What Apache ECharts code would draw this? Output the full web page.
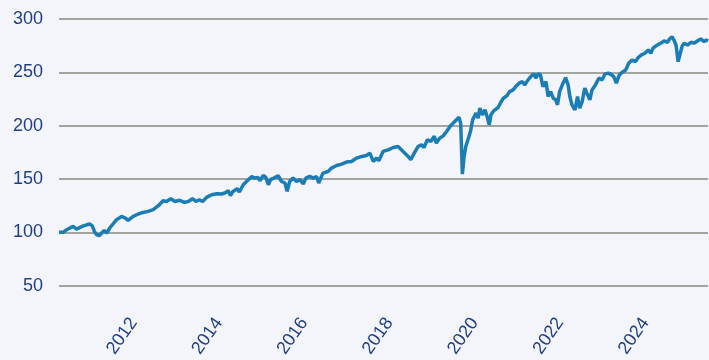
<!DOCTYPE html>
<html>
<head>
<meta charset="utf-8">
<script src="https://cdn.jsdelivr.net/npm/echarts@6/dist/echarts.min.js"></script>
<style>
  html, body { margin: 0; padding: 0; background: #f4f5fb; }
  #chart { width: 709px; height: 360px; }
</style>
</head>
<body>
<div id="chart"></div>
<script>
// Index level (start = 100), sampled by fractional year
const years = [
  2010.75, 2010.85, 2010.93, 2011.08, 2011.16, 2011.32, 2011.40, 2011.47, 2011.53, 2011.58,
  2011.63, 2011.69, 2011.75, 2011.81, 2011.87, 2011.94, 2012.10, 2012.22, 2012.30, 2012.37,
  2012.49, 2012.61, 2012.72, 2012.84, 2012.96, 2013.08, 2013.19, 2013.27, 2013.37, 2013.47,
  2013.58, 2013.69, 2013.78, 2013.88, 2013.96, 2014.04, 2014.12, 2014.21, 2014.33, 2014.45,
  2014.56, 2014.64, 2014.72, 2014.77, 2014.83, 2014.93, 2014.98, 2015.07, 2015.19, 2015.27,
  2015.34, 2015.42, 2015.46, 2015.54, 2015.60, 2015.66, 2015.71, 2015.79, 2015.89, 2015.97,
  2016.05, 2016.10, 2016.16, 2016.24, 2016.32, 2016.40, 2016.48, 2016.54, 2016.63, 2016.71,
  2016.79, 2016.84, 2016.94, 2017.06, 2017.14, 2017.26, 2017.38, 2017.49, 2017.61, 2017.73,
  2017.85, 2017.96, 2018.04, 2018.12, 2018.20, 2018.25, 2018.35, 2018.47, 2018.59, 2018.70,
  2018.78, 2018.86, 2018.94, 2019.00, 2019.08, 2019.17, 2019.25, 2019.31, 2019.39, 2019.47,
  2019.55, 2019.60, 2019.68, 2019.76, 2019.84, 2019.92, 2019.99, 2020.07, 2020.13, 2020.17,
  2020.21, 2020.25, 2020.29, 2020.34, 2020.40, 2020.45, 2020.49, 2020.53, 2020.58, 2020.62,
  2020.68, 2020.74, 2020.79, 2020.84, 2020.88, 2020.95, 2021.05, 2021.10, 2021.17, 2021.25,
  2021.32, 2021.40, 2021.46, 2021.54, 2021.62, 2021.67, 2021.75, 2021.83, 2021.89, 2021.93,
  2021.99, 2022.04, 2022.10, 2022.17, 2022.22, 2022.28, 2022.34, 2022.40, 2022.44, 2022.49,
  2022.57, 2022.63, 2022.69, 2022.73, 2022.78, 2022.85, 2022.91, 2022.96, 2023.02, 2023.08,
  2023.13, 2023.20, 2023.25, 2023.33, 2023.41, 2023.49, 2023.55, 2023.63, 2023.71, 2023.76,
  2023.82, 2023.89, 2023.96, 2024.04, 2024.11, 2024.19, 2024.27, 2024.33, 2024.41, 2024.49,
  2024.57, 2024.63, 2024.68, 2024.76, 2024.86, 2024.94, 2025.02, 2025.07, 2025.13, 2025.17,
  2025.22, 2025.27, 2025.32, 2025.36, 2025.41, 2025.49, 2025.57, 2025.64, 2025.72, 2025.80,
  2025.88, 2025.93, 2025.97
];
const levels = [
  100.0, 99.9, 102.4, 105.5, 103.0, 106.0, 107.0, 107.8, 106.0, 100.8,
  97.8, 96.8, 99.3, 101.8, 99.3, 104.0, 111.8, 114.9, 113.4, 111.1,
  114.9, 117.1, 118.6, 119.6, 121.2, 124.9, 129.6, 128.9, 131.5, 128.9,
  130.0, 128.0, 128.9, 131.5, 128.9, 130.5, 128.9, 132.7, 135.2, 136.1,
  135.9, 136.8, 139.0, 134.3, 138.3, 140.8, 137.7, 144.6, 149.3, 152.3,
  150.8, 151.4, 148.3, 153.3, 151.4, 144.6, 149.3, 150.8, 153.0, 147.6,
  146.2, 138.3, 147.6, 150.8, 147.6, 149.3, 145.3, 150.8, 152.5, 150.8,
  152.3, 146.2, 155.5, 157.0, 160.2, 162.6, 163.9, 165.8, 166.4, 169.6,
  171.1, 172.0, 174.2, 166.4, 169.6, 167.1, 175.8, 177.3, 179.5, 180.4,
  177.3, 174.2, 171.1, 168.0, 174.2, 180.4, 182.0, 179.5, 186.7, 185.1,
  190.0, 183.6, 188.3, 190.4, 194.5, 199.2, 202.3, 205.4, 208.0, 202.3,
  154.5, 171.1, 180.4, 186.7, 194.5, 205.4, 208.5, 211.7, 207.0, 216.4,
  210.1, 214.8, 208.5, 200.7, 210.1, 214.1, 217.2, 221.0, 225.7, 227.9,
  231.9, 233.5, 236.6, 239.8, 241.3, 238.2, 242.9, 246.6, 248.5, 244.5,
  248.5, 247.6, 236.6, 241.3, 227.3, 231.9, 225.7, 224.2, 219.5, 231.9,
  239.8, 245.0, 238.2, 227.3, 219.5, 214.8, 227.3, 216.4, 222.6, 235.1,
  230.4, 224.2, 233.5, 238.2, 244.5, 242.9, 248.3, 249.2, 247.6, 246.0,
  239.8, 247.6, 250.1, 252.2, 258.5, 261.6, 260.0, 263.8, 266.3, 267.9,
  271.0, 267.9, 272.6, 275.1, 277.3, 279.4, 278.2, 281.3, 283.4, 280.3,
  275.6, 260.0, 267.9, 274.1, 277.3, 275.6, 278.2, 277.3, 279.4, 281.3,
  278.8, 280.3, 279.4
];
// Year labels sit in the middle of each labelled year
const yearLabels = [2012, 2014, 2016, 2018, 2020, 2022, 2024];
const yTicks = [50, 100, 150, 200, 250, 300];

const chart = echarts.init(document.getElementById('chart'), null, { renderer: 'canvas' });
const textColor = '#1f3f85';
const font = '"Liberation Sans", Arial, sans-serif';

chart.setOption({
  backgroundColor: '#f4f5fb',
  animation: false,
  grid: { left: 59, right: 1, top: 19, bottom: 74, containLabel: false },
  xAxis: {
    type: 'value',
    min: years[0],
    max: years[years.length - 1],
    splitLine: { show: false },
    axisLine: { show: false },
    axisTick: { show: false },
    axisLabel: {
      customValues: yearLabels.map(y => y + 0.5),
      formatter: v => String(Math.floor(v)),
      rotate: 55,
      margin: 34,
      color: textColor,
      fontSize: 18,
      fontFamily: font
    }
  },
  yAxis: {
    type: 'value',
    min: yTicks[0],
    max: yTicks[yTicks.length - 1],
    interval: 50,
    axisLine: { show: false },
    axisTick: { show: false },
    splitLine: { lineStyle: { color: '#8a897f', width: 1.5 } },
    axisLabel: {
      margin: 16,
      color: textColor,
      fontSize: 18,
      fontFamily: font
    }
  },
  series: [{
    type: 'line',
    data: years.map((y, i) => [y, levels[i]]),
    showSymbol: false,
    smooth: false,
    lineStyle: { color: '#1a7db5', width: 3.5 },
    z: 3
  }]
});
</script>
</body>
</html>
